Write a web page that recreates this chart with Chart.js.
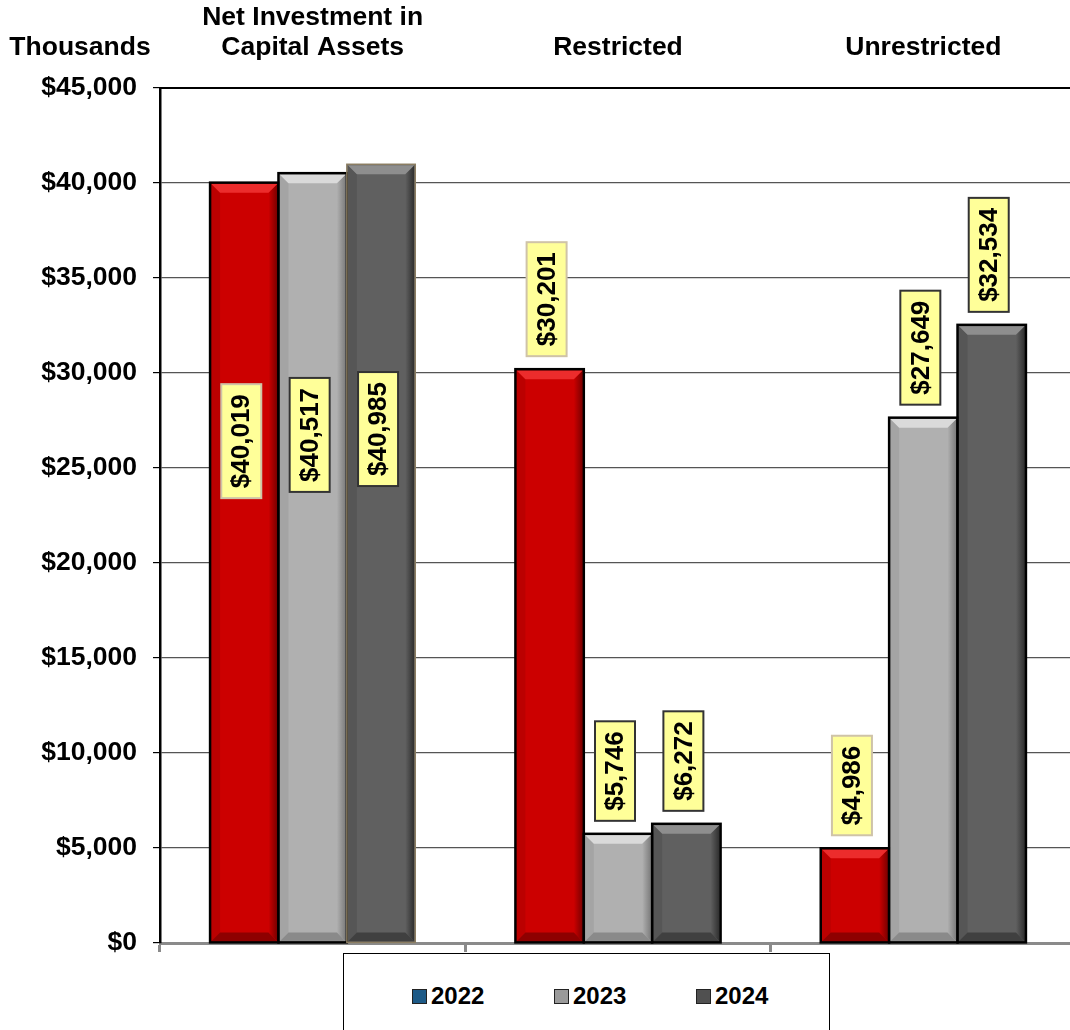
<!DOCTYPE html>
<html>
<head>
<meta charset="utf-8">
<script src="https://cdn.jsdelivr.net/npm/chart.js@4.4.1/dist/chart.umd.min.js"></script>
<style>
  html, body { margin: 0; padding: 0; background: #fff; overflow: hidden; }
  #wrap { position: relative; width: 1076px; height: 1030px; }
  #legend {
    position: absolute; left: 343px; top: 953px; width: 487px; height: 90px;
    border: 1px solid #000; background: #fff; box-sizing: border-box;
    font: bold 24px "Liberation Sans", Arial, sans-serif; color: #000;
  }
  .item { position: absolute; top: 28px; display: flex; align-items: center; }
  .sw { width: 13px; height: 13px; border: 1px solid #222; margin-right: 4px; }
</style>
</head>
<body>
<div id="wrap">
  <canvas id="chart" width="1076" height="1030"></canvas>
  <div id="legend"></div>
</div>
<script>
const categories = [["Net Investment in", "Capital Assets"], "Restricted", "Unrestricted"];
const years = ["2022", "2023", "2024"];
const values2022 = [40019, 30201, 4986];
const values2023 = [40517, 5746, 27649];
const values2024 = [40985, 6272, 32534];
const yMin = 0, yMax = 45000, yStep = 5000;

// bar colours + bevel shades
const shades = [
  { main: "#cc0000", top: "#ec2c2c", left: "#bb0000", right: "#780000", bottom: "#8e0000", label: "#cfc3a8", swatch: "#1d5a87" },
  { main: "#b0b0b0", top: "#dadada", left: "#a4a4a4", right: "#7a7a7a", bottom: "#8a8a8a", label: "#333333", swatch: "#9a9a9a" },
  { main: "#606060", top: "#8e8e8e", left: "#565656", right: "#2e2e2e", bottom: "#404040", label: "#333333", swatch: "#505050" }
];
const barBorders = [
  ["#000", "#000", "#000"],
  ["#000", "#000", "#000"],
  ["#8b7d62", "#000", "#000"]
];

const money = (v) => "$" + v.toLocaleString("en-US");
const FONT = '"Liberation Sans", Arial, sans-serif';

function poly(ctx, pts, color) {
  ctx.beginPath();
  ctx.moveTo(pts[0][0], pts[0][1]);
  for (let i = 1; i < pts.length; i++) ctx.lineTo(pts[i][0], pts[i][1]);
  ctx.closePath();
  ctx.fillStyle = color;
  ctx.fill();
}

const bevelPlugin = {
  id: "bevel",
  afterDatasetsDraw(chart) {
    const ctx = chart.ctx;
    chart.data.datasets.forEach((ds, di) => {
      const c = shades[di];
      chart.getDatasetMeta(di).data.forEach((bar, i) => {
        const l = bar.x - bar.width / 2 + 1, r = bar.x + bar.width / 2 - 1;
        const t = bar.y + 1, b = bar.base - 1;
        const bv = Math.min(9, (b - t) / 2);
        ctx.save();
        poly(ctx, [[l, t], [l + bv, t + bv], [l + bv, b - bv], [l, b]], c.left);
        const g = ctx.createLinearGradient(r - bv, 0, r, 0);
        g.addColorStop(0, c.main);
        g.addColorStop(1, c.right);
        poly(ctx, [[r, t], [r, b], [r - bv, b - bv], [r - bv, t + bv]], g);
        poly(ctx, [[l, b], [r, b], [r - bv, b - bv], [l + bv, b - bv]], c.bottom);
        poly(ctx, [[l, t], [r, t], [r - bv, t + bv], [l + bv, t + bv]], c.top);
        ctx.lineWidth = barBorders[di][i] === "#000" ? 2.5 : 1.5;
        ctx.strokeStyle = barBorders[di][i];
        ctx.strokeRect(bar.x - bar.width / 2, bar.y, bar.width, bar.base - bar.y);
        ctx.restore();
      });
    });
  }
};

const labelPlugin = {
  id: "valueBoxes",
  afterDatasetsDraw(chart) {
    const ctx = chart.ctx;
    const ys = chart.scales.y;
    chart.data.datasets.forEach((ds, di) => {
      chart.getDatasetMeta(di).data.forEach((bar, i) => {
        const text = money(ds.data[i]);
        ctx.save();
        ctx.font = "bold 26px " + FONT;
        const tw = ctx.measureText(text).width;
        const bw = 40, bh = tw + 20;
        let cy;
        if (i === 0) cy = ys.getPixelForValue(ds.data[i] * 0.66);
        else cy = bar.y - 13 - bh / 2;
        const cx = bar.x - 3;
        ctx.fillStyle = "#ffff99";
        ctx.fillRect(cx - bw / 2, cy - bh / 2, bw, bh);
        ctx.lineWidth = 2;
        ctx.strokeStyle = shades[di].label;
        ctx.strokeRect(cx - bw / 2, cy - bh / 2, bw, bh);
        ctx.translate(cx, cy);
        ctx.rotate(-Math.PI / 2);
        ctx.fillStyle = "#000";
        ctx.textAlign = "center";
        ctx.textBaseline = "middle";
        ctx.fillText(text, 0, 1);
        ctx.restore();
      });
    });
  }
};

const unitPlugin = {
  id: "unitLabel",
  afterDraw(chart) {
    const ctx = chart.ctx;
    ctx.save();
    ctx.font = "bold 26.5px " + FONT;
    ctx.fillStyle = "#000";
    ctx.textAlign = "center";
    ctx.textBaseline = "middle";
    ctx.fillText("Thousands", 80, 48);
    ctx.restore();
  }
};

const data = {
  labels: categories,
  datasets: [
    { label: years[0], data: values2022, backgroundColor: shades[0].main },
    { label: years[1], data: values2023, backgroundColor: shades[1].main },
    { label: years[2], data: values2024, backgroundColor: shades[2].main }
  ]
};

const config = {
  type: "bar",
  data: data,
  options: {
    responsive: false,
    animation: false,
    layout: { padding: 0 },
    datasets: {
      bar: { categoryPercentage: 0.672, barPercentage: 1.0, borderWidth: 0 }
    },
    scales: {
      x: {
        position: "top",
        offset: true,
        grid: { display: false, drawTicks: false, tickLength: 0 },
        border: { display: true, color: "#000", width: 2 },
        ticks: {
          color: "#000",
          padding: 25,
          maxRotation: 0,
          font: { family: FONT, size: 26.5, weight: "bold", lineHeight: 1.13 }
        },
        afterFit: (s) => { s.height = 88; }
      },
      x2: {
        type: "category",
        labels: categories,
        position: "bottom",
        offset: true,
        grid: {
          offset: true, drawOnChartArea: false, drawTicks: true,
          tickLength: 9, color: "#8a8a8a", lineWidth: 3
        },
        border: { display: true, color: "#8a8a8a", width: 3 },
        ticks: { display: false },
        afterFit: (s) => { s.height = 87; }
      },
      y: {
        min: yMin,
        max: yMax,
        grid: { color: "#555", lineWidth: 1.2, tickLength: 7, tickColor: "#000" },
        border: { display: true, color: "#000", width: 2.5 },
        ticks: {
          stepSize: yStep,
          color: "#000",
          padding: 16,
          font: { family: FONT, size: 26.5, weight: "bold" },
          callback: (v) => money(v)
        },
        afterFit: (s) => { s.width = 160; }
      }
    },
    plugins: {
      legend: { display: false },
      tooltip: { enabled: false }
    }
  },
  plugins: [bevelPlugin, labelPlugin, unitPlugin]
};

new Chart(document.getElementById("chart").getContext("2d"), config);

// legend, drawn as html text
const legend = document.getElementById("legend");
const legendX = [68, 210, 352];
years.forEach((yr, i) => {
  const it = document.createElement("div");
  it.className = "item";
  it.style.left = legendX[i] + "px";
  it.innerHTML = '<span class="sw" style="background:' + shades[i].swatch + '"></span>' + yr;
  legend.appendChild(it);
});
</script>
</body>
</html>
